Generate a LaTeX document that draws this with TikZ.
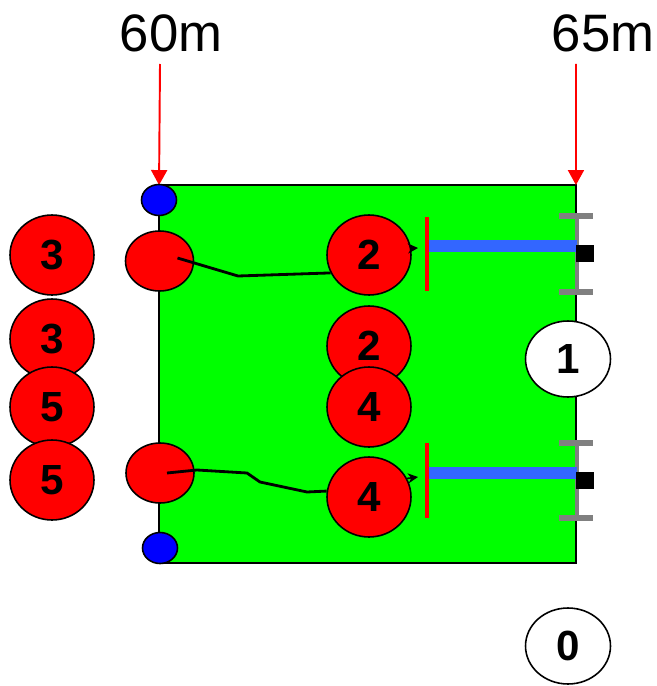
\documentclass[tikz,border=0pt]{standalone}
\usepackage{fontspec}
\setmainfont{Liberation Sans}
\usepackage{tikz}
\usetikzlibrary{arrows.meta,shapes.geometric}
\definecolor{turf}{HTML}{00FF00}
\definecolor{hotred}{HTML}{FF0000}
\definecolor{pinblue}{HTML}{0000FF}
\definecolor{boomblue}{HTML}{3366FF}
\definecolor{steel}{HTML}{808080}
\tikzset{
  field/.style  ={draw=black,line width=0.9pt,fill=turf,inner sep=0pt,outer sep=0pt},
  disc/.style   ={ellipse,draw=black,line width=0.9pt,fill=hotred,inner sep=0pt,
                  minimum width=1.68cm,minimum height=1.6cm,
                  font=\fontsize{24}{24}\selectfont\bfseries},
  tag/.style    ={disc,fill=white,minimum width=1.7cm,minimum height=1.52cm},
  post/.style   ={ellipse,draw=black,line width=0.9pt,fill=hotred,inner sep=0pt,
                  minimum width=1.36cm,minimum height=1.2cm},
  pin/.style    ={ellipse,draw=black,line width=0.9pt,fill=pinblue,inner sep=0pt,
                  minimum width=0.7cm,minimum height=0.62cm},
  dist/.style   ={font=\fontsize{30}{30}\selectfont,anchor=base,inner sep=0pt},
  meter/.style  ={-{Triangle[length=3mm,width=3.2mm]},line width=1.1pt,draw=hotred},
  wire/.style   ={line width=1.6pt,draw=black},
  nudge/.style  ={-{Stealth[length=2mm,width=2mm]},line width=0.9pt,draw=black},
  barrier/.style={line width=2.3pt,draw=hotred},
  boom/.style   ={line width=6.8pt,draw=boomblue},
  ibeam/.style  ={line width=2.8pt,draw=steel},
  ibcap/.style  ={line width=3.4pt,draw=steel}
}
\begin{document}
\begin{tikzpicture}[x=0.02cm,y=-0.02cm]
  \useasboundingbox (0,0) rectangle (656,686);
  % distance marks
  \node[dist] (lbl60) at (171,52) {60m};
  \node[dist] (lbl65) at (603,52) {65m};
  \node[field,minimum width=8.34cm,minimum height=7.56cm] (field) at (367.5,374) {};
  \coordinate (t60) at (160,64);
  \coordinate (t65) at (576,64);
  \draw[meter] (t60) -- (field.north west);
  \draw[meter] (t65) -- (field.north east);
  % posts on the left edge
  \node[pin] (pinA) at (159,200) {};
  \node[pin] (pinB) at (160,548) {};
  \node[post] (postA) at (159.5,261) {};
  \node[post] (postB) at (160,473) {};
  % left column
  \node[disc] (l3a) at (52,255) {3};
  \node[disc] (l3b) at (52,339) {3};
  \node[disc] (l5a) at (52,407) {5};
  \node[disc] (l5b) at (52,480) {5};
  % middle column
  \node[disc] (c2a) at (369,255) {2};
  \node[disc] (c2b) at (369,346) {2};
  \node[disc] (c4a) at (369,407) {4};
  \node[disc] (c4b) at (369,497) {4};
  % lines from posts
  \draw[wire] ([shift={(18,-3)}]postA.center) -- (238,276) -- (c2a.205);
  \draw[wire] ([shift={(7,0)}]postB.center) -- (197,470) -- (247,473)
              -- (260,482) -- (307,492) -- (c4b.172);
  \coordinate (hA) at (418,248);
  \coordinate (hB) at (418,477);
  \draw[nudge] (c2a.9) -- (hA);
  \draw[nudge] (c4b.26) -- (hB);
  % stops and bars
  \draw[barrier] (427,217) -- (427,291);
  \draw[barrier] (427,443) -- (427,518);
  \foreach \yy/\ya/\yb in {246/216/292, 473/443/518} {
    \draw[ibeam] (577,\ya) -- (577,\yb);
    \draw[ibcap] (559,\ya) -- (593,\ya);
    \draw[ibcap] (559,\yb) -- (593,\yb);
    \draw[boom] (429,\yy) -- (577,\yy);
  }
  \fill[black] (576,245) rectangle (594,262);
  \fill[black] (576,472) rectangle (594,489);
  % right column
  \node[tag] (r1) at (568,359) {1};
  \node[tag] (r0) at (568,646) {0};
\end{tikzpicture}
\end{document}
